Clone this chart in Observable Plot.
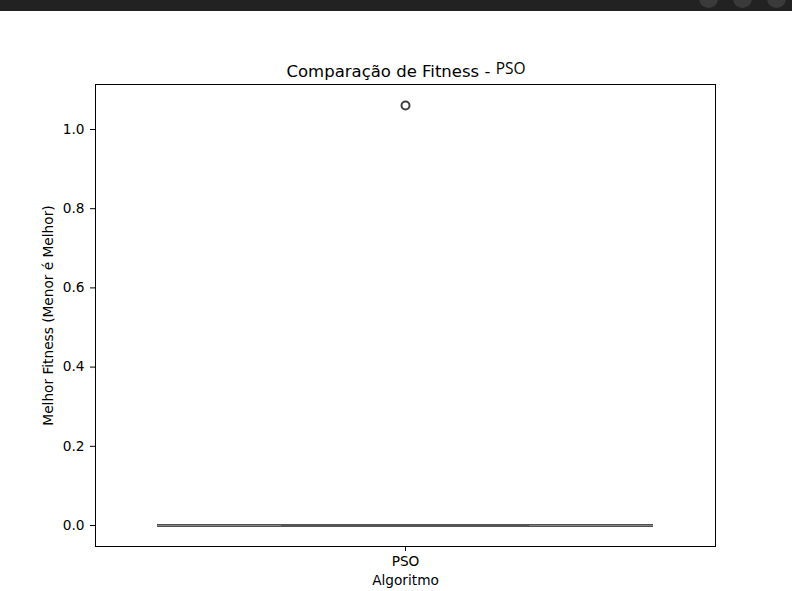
<!DOCTYPE html>
<html><head><meta charset="utf-8">
<script src="https://cdn.jsdelivr.net/npm/d3@7"></script>
<script src="https://cdn.jsdelivr.net/npm/@observablehq/plot@0.6"></script>
<style>
body{margin:0;background:#fff;width:792px;height:591px;overflow:hidden;position:relative;font-family:"DejaVu Sans",sans-serif}
#bar{position:absolute;left:0;top:0;width:792px;height:11px;background:#222;overflow:hidden}
.btn{position:absolute;top:-11px;width:19px;height:19px;border-radius:50%;background:#3a3a3a}
#chart{position:absolute;left:0;top:11px}
#title{position:absolute;left:0;top:60px;width:812px;text-align:center;font-size:16.5px;color:#000;white-space:nowrap;font-family:"DejaVu Sans"}
#title .sub{font-family:"Open Sans";font-size:15.5px;position:relative;top:-3px}
</style>
</head><body>
<div id="chart"></div>
<div id="bar"><div class="btn" style="left:699px"></div><div class="btn" style="left:733px"></div><div class="btn" style="left:767px"></div></div>
<div id="title">Comparação de Fitness - <span class="sub">PSO</span></div>
<script>
// Data
const algorithms = ["PSO"];
const q1 = [0];
const median = [0];
const q3 = [0];
const whiskerLow = [0];
const whiskerHigh = [0];
const outlierAlgorithm = ["PSO"];
const outlierValue = [1.0606];
const yTicks = [0, 0.2, 0.4, 0.6, 0.8, 1.0];

const boxes = algorithms.map((a, i) => ({alg: a, q1: q1[i], med: median[i], q3: q3[i], lo: whiskerLow[i], hi: whiskerHigh[i]}));
const outliers = outlierAlgorithm.map((a, i) => ({alg: a, v: outlierValue[i]}));

const chart = Plot.plot({
  width: 792,
  height: 580,
  marginLeft: 95,
  marginRight: 77,
  marginTop: 73,
  marginBottom: 45,
  style: {fontFamily: "DejaVu Sans", fontSize: "13.7px", color: "#000", background: "#fff"},
  x: {type: "band", domain: algorithms, padding: 0, label: null},
  y: {domain: [-0.053, 1.1136], label: null},
  marks: [
    Plot.axisY({ticks: yTicks, tickFormat: d3.format(".1f"), tickSize: 5, tickPadding: 6, label: "Melhor Fitness (Menor é Melhor)", labelArrow: "none", labelAnchor: "center", labelOffset: 52}),
    Plot.axisX({tickSize: 5, tickPadding: 5, label: "Algoritmo", labelArrow: "none", labelAnchor: "center", labelOffset: 38}),
    Plot.ruleX(boxes, {x: "alg", y1: "q1", y2: "lo", stroke: "#3f3f3f", strokeWidth: 1.5}),
    Plot.ruleX(boxes, {x: "alg", y1: "q3", y2: "hi", stroke: "#3f3f3f", strokeWidth: 1.5}),
    Plot.tickY(boxes, {x: "alg", y: "q1", insetLeft: 62, insetRight: 62, stroke: "#444", strokeWidth: 2.4}),
    Plot.tickY(boxes, {x: "alg", y: "q3", insetLeft: 62, insetRight: 62, stroke: "#444", strokeWidth: 2.4}),
    Plot.tickY(boxes, {x: "alg", y: "med", insetLeft: 62, insetRight: 62, stroke: "#8a8a8a", strokeWidth: 0.9}),
    Plot.tickY(boxes, {x: "alg", y: "lo", insetLeft: 186, insetRight: 186, stroke: "#555", strokeWidth: 2.4}),
    Plot.tickY(boxes, {x: "alg", y: "hi", insetLeft: 186, insetRight: 186, stroke: "#555", strokeWidth: 2.4}),
    Plot.dot(outliers, {x: "alg", y: "v", r: 4, stroke: "#3f3f3f", strokeWidth: 2, fill: "none"}),
    Plot.frame({stroke: "#000", strokeWidth: 1})
  ]
});
document.getElementById("chart").appendChild(chart);
</script>
</body></html>
